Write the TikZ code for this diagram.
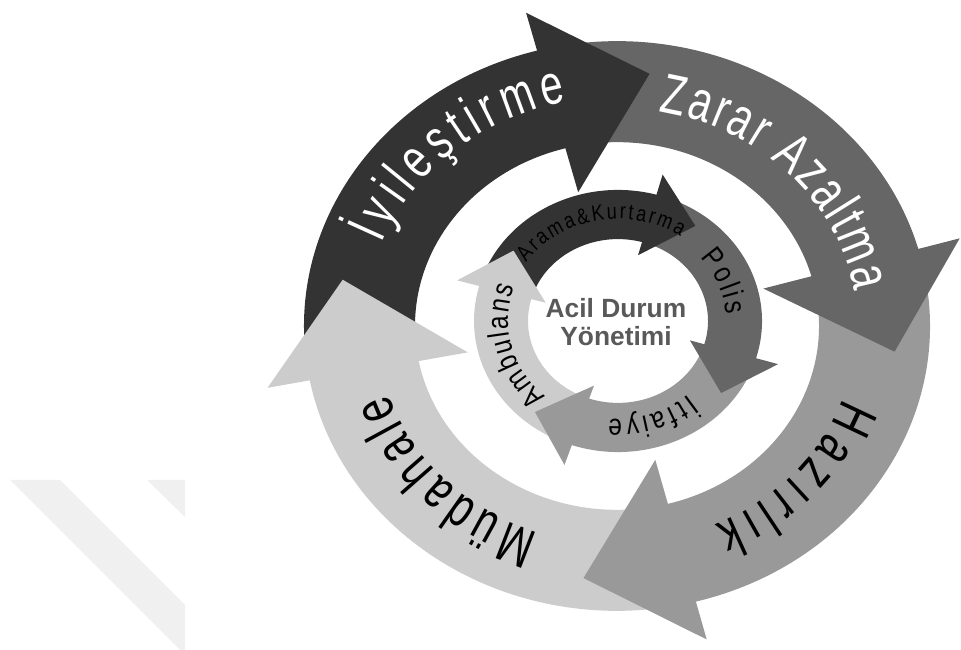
\documentclass[tikz,border=0pt]{standalone}
\usepackage{fontspec}
\setmainfont{Liberation Sans}
\newfontfamily\narrowfamily[FakeStretch=0.72]{Liberation Sans}
\newfontfamily\semifamily[FakeStretch=0.82]{Liberation Sans}
\usetikzlibrary{decorations.text}

\definecolor{phaseA}{gray}{0.2}
\definecolor{phaseB}{gray}{0.4}
\definecolor{phaseC}{gray}{0.6}
\definecolor{phaseD}{gray}{0.8}
\definecolor{wmgray}{gray}{0.94}
\definecolor{hubgray}{gray}{0.35}
\newcommand{\phasefont}{\narrowfamily\fontsize{16}{18}\selectfont}
\newcommand{\unitfont}{\semifamily\fontsize{8.5}{10}\selectfont}
\newcommand{\tinyunitfont}{\semifamily\fontsize{6.3}{7}\selectfont}

\begin{document}
\begin{tikzpicture}[
    lbl/.style={decorate, decoration={text along path, text align={fit to path}, #1}}]
\useasboundingbox (0,0) rectangle (9.61,6.5);

%% faint watermark stripes, lower left
\fill[wmgray] (0.10,1.70) -- (0.60,1.70) -- (1.85,0.45) -- (1.85,0) -- (1.80,0) -- cycle;
\fill[wmgray] (1.47,1.70) -- (1.85,1.70) -- (1.85,1.33) -- cycle;

%% OUTER ring: four phases
\begin{scope}[shift={(6.17,3.24)}, yscale=0.91]
% bands first, each tail hides under the previous head
\foreach \s/\b/\c in {186/104.8/phaseA, 99.8/15.7/phaseB, 10.7/-75.4/phaseC, -80.4/-169/phaseD}{
  \fill[\c] (\s:3.13) arc[start angle=\s, end angle=\b-1, radius=3.13]
    -- ({\b-1}:2.02) arc[start angle=\b-1, end angle=\s, radius=2.02] -- cycle;
}
% heads
\foreach \b/\c in {104.8/phaseA, 15.7/phaseB, -75.4/phaseC, -169/phaseD}{
  \fill[\c] (\b:3.56) -- ({\b-21.5}:2.79) -- (\b:1.52) -- cycle;
}
\end{scope}

%% INNER ring: four units
\begin{scope}[shift={(6.18,3.29)}, yscale=0.91]
\foreach \s/\b/\c in {160/74.5/phaseA, 69.5/-16.5/phaseB, -21.5/-108.7/phaseC, -113.7/-195.5/phaseD}{
  \fill[\c] (\s:1.44) arc[start angle=\s, end angle=\b-1, radius=1.44]
    -- ({\b-1}:0.90) arc[start angle=\b-1, end angle=\s, radius=0.90] -- cycle;
}
\foreach \b/\c in {74.5/phaseA, -16.5/phaseB, -108.7/phaseC, 164.5/phaseD}{
  \fill[\c] (\b:1.67) -- ({\b-21}:1.30) -- (\b:0.75) -- cycle;
}
\end{scope}

%% outer labels
\begin{scope}[shift={(6.17,3.24)}]
\path[lbl={text={|\phasefont|İyileştirme}, text color=white}]
  (159:2.52 and 2.29) arc[start angle=159, end angle=101.5, x radius=2.52, y radius=2.29];
\path[lbl={text={|\phasefont|Zarar Azaltma}, text color=white}]
  (80:2.40 and 2.18) arc[start angle=80, end angle=9, x radius=2.40, y radius=2.18];
\path[lbl={text={|\phasefont|Hazırlık}, text color=black}]
  (-19.5:2.40 and 2.18) arc[start angle=-19.5, end angle=-66, x radius=2.40, y radius=2.18];
\path[lbl={text={|\phasefont|Müdahale}, text color=black}]
  (-109:2.41 and 2.19) arc[start angle=-109, end angle=-162, x radius=2.41, y radius=2.19];
\end{scope}

%% inner labels
\begin{scope}[shift={(6.18,3.29)}]
\path[lbl={text={|\tinyunitfont|Arama{\&}Kurtarma}, text color=black}]
  (145:1.12 and 1.02) arc[start angle=145, end angle=56, x radius=1.12, y radius=1.02];
\path[lbl={text={|\unitfont|Polis}, text color=black}]
  (40:1.08 and 0.98) arc[start angle=40, end angle=4, x radius=1.08, y radius=0.98];
\path[lbl={text={|\unitfont|İtfaiye}, text color=black}]
  (-49:1.08 and 0.98) arc[start angle=-49, end angle=-95, x radius=1.08, y radius=0.98];
\path[lbl={text={|\unitfont|Ambulans}, text color=black}]
  (-131:1.10 and 1.00) arc[start angle=-131, end angle=-200, x radius=1.10, y radius=1.00];
\end{scope}

%% centre
\node[font=\fontsize{7.5}{8}\selectfont\bfseries, text=hubgray, align=center]
  (hub) at (6.16,3.28) {Acil Durum\\Yönetimi};
\end{tikzpicture}
\end{document}
